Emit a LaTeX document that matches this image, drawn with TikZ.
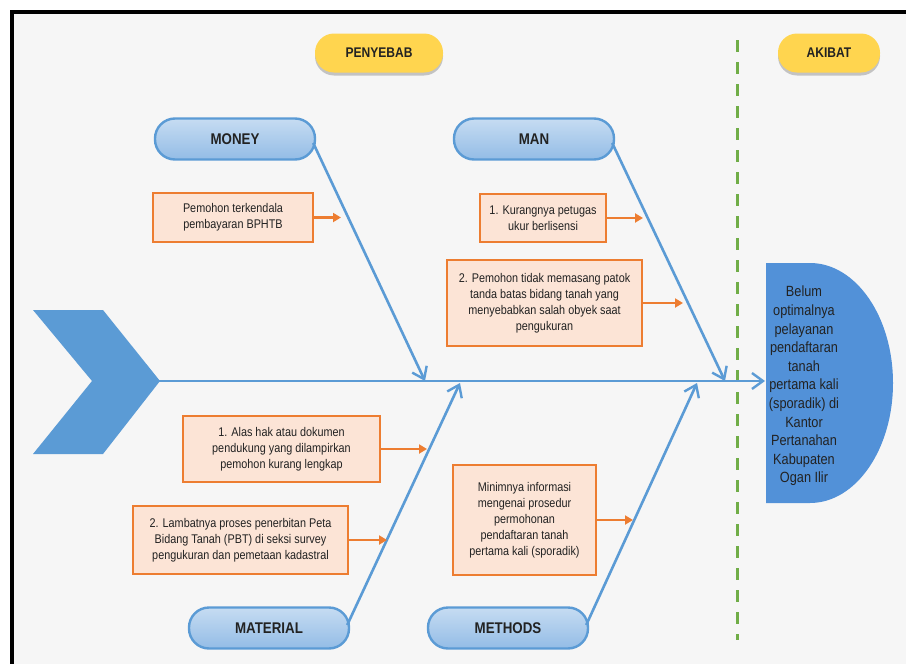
\documentclass[tikz,border=0pt]{standalone}
\usepackage{fontspec}
\setmainfont{Liberation Sans}[FakeStretch=0.86]
\usetikzlibrary{arrows.meta,shadows}
\definecolor{bgc}{HTML}{F6F6F6}
\definecolor{bone}{HTML}{5B9BD5}
\definecolor{pillborder}{HTML}{5B9BD5}
\definecolor{pilltop}{HTML}{C6DCF2}
\definecolor{pillbot}{HTML}{93BCE6}
\definecolor{yel}{HTML}{FFD54F}
\definecolor{boxfill}{HTML}{FCE4D6}
\definecolor{boxor}{HTML}{ED7D31}
\definecolor{grn}{HTML}{70AD47}
\definecolor{txt}{HTML}{222222}
\definecolor{effc}{HTML}{5291D8}
\tikzset{
  cause/.style={draw=boxor, line width=1.6pt, fill=boxfill, align=center,
    font=\fontsize{12.6}{16}\selectfont, text=txt, inner sep=0pt},
  pill/.style={draw=pillborder, line width=2.4pt, top color=pilltop, bottom color=pillbot,
    rounded corners=20pt, minimum width=160pt, minimum height=41pt, inner sep=0pt,
    font=\fontsize{15.5}{18}\selectfont\bfseries, text=txt},
  ypill/.style={fill=yel, rounded corners=19pt, minimum height=39pt, inner sep=0pt,
    font=\fontsize{14}{17}\selectfont\bfseries, text=txt,
    drop shadow={shadow xshift=0pt, shadow yshift=-3pt, opacity=0.35, fill=black!60}},
  bonearrow/.style={draw=bone, line width=2.6pt, -{Straight Barb[length=11pt, width=16pt, line width=2.4pt]}},
  orarrow/.style={draw=boxor, line width=2.4pt, -{Triangle[length=8pt, width=9pt]}},
}
\begin{document}
\begin{tikzpicture}[x=1pt,y=-1pt]
\useasboundingbox (0,0) rectangle (906,664);
% frame and background
\fill[bgc] (12,12) rectangle (906,664);
\draw[black, line width=4pt] (12,664) -- (12,12) -- (906,12);

% header pills
\node[ypill, minimum width=128pt] (peny) at (379,53) {PENYEBAB};
\node[ypill, minimum width=102pt] (akib) at (829,53) {AKIBAT};

% green dashed separator
\coordinate (gtop) at (737,40);
\coordinate (gbot) at (737,640);
\draw[grn, line width=3pt, dash pattern=on 12pt off 10pt] (gtop) -- (gbot);

% chevron head
\fill[bone] (33,310) -- (103,310) -- (160,381) -- (103,454) -- (33,454) -- (92,381) -- cycle;
\coordinate (tail) at (158,381);
\coordinate (spineend) at (765,381);
\draw[bonearrow] (tail) -- (spineend);

% effect
\fill[effc] (766,263) -- (810,263) arc[start angle=-90, end angle=90, x radius=83, y radius=120] -- (766,503) -- cycle;
\node[align=center, text=txt, font=\fontsize{14.8}{18.6}\selectfont] (eff) at (804,386)
 {Belum\\optimalnya\\pelayanan\\pendaftaran\\tanah\\pertama kali\\(sporadik) di\\Kantor\\Pertanahan\\Kabupaten\\Ogan Ilir};

% category pills
\node[pill] (money) at (235,139) {MONEY};
\node[pill] (man) at (534,139) {MAN};
\node[pill] (mat) at (269,628) {MATERIAL};
\node[pill] (meth) at (508,628) {METHODS};

% bones
\coordinate (jmoney) at (425,381);
\coordinate (jman) at (725,381);
\coordinate (jmat) at (460,383);
\coordinate (jmeth) at (697,383);
\path (money.east) ++(-3,4) coordinate (smoney);
\draw[bonearrow] (smoney) -- (jmoney);
\path (man.east) ++(-3,4) coordinate (sman);
\draw[bonearrow] (sman) -- (jman);
\path (mat.east) ++(-3,-3) coordinate (smat);
\draw[bonearrow] (smat) -- (jmat);
\path (meth.east) ++(-3,-3) coordinate (smeth);
\draw[bonearrow] (smeth) -- (jmeth);

% causes
\node[cause, minimum width=160pt, minimum height=49pt] (c1) at (233,217.5) {Pemohon terkendala\\pembayaran BPHTB};
\node[cause, minimum width=126pt, minimum height=48pt] (c2) at (543,218) {1. Kurangnya petugas\\ukur berlisensi};
\node[cause, minimum width=195pt, minimum height=86pt] (c3) at (544.5,303) {2. Pemohon tidak memasang patok\\tanda batas bidang tanah yang\\menyebabkan salah obyek saat\\pengukuran};
\node[cause, minimum width=197pt, minimum height=66pt] (c4) at (281.5,449) {1. Alas hak atau dokumen\\pendukung yang dilampirkan\\pemohon kurang lengkap};
\node[cause, minimum width=215pt, minimum height=68pt] (c5) at (240.5,540) {2. Lambatnya proses penerbitan Peta\\Bidang Tanah (PBT) di seksi survey\\pengukuran dan pemetaan kadastral};
\node[cause, minimum width=143pt, minimum height=110pt] (c6) at (524.5,520) {Minimnya informasi\\mengenai prosedur\\permohonan\\pendaftaran tanah\\pertama kali (sporadik)};

\coordinate (a1) at (341,217.5);
\coordinate (a2) at (643,218);
\coordinate (a3) at (683,303);
\coordinate (a4) at (427,449);
\coordinate (a5) at (387,540);
\coordinate (a6) at (633,520);
\draw[orarrow] (c1.east) -- (a1);
\draw[orarrow] (c2.east) -- (a2);
\draw[orarrow] (c3.east) -- (a3);
\draw[orarrow] (c4.east) -- (a4);
\draw[orarrow] (c5.east) -- (a5);
\draw[orarrow] (c6.east) -- (a6);
\end{tikzpicture}
\end{document}
